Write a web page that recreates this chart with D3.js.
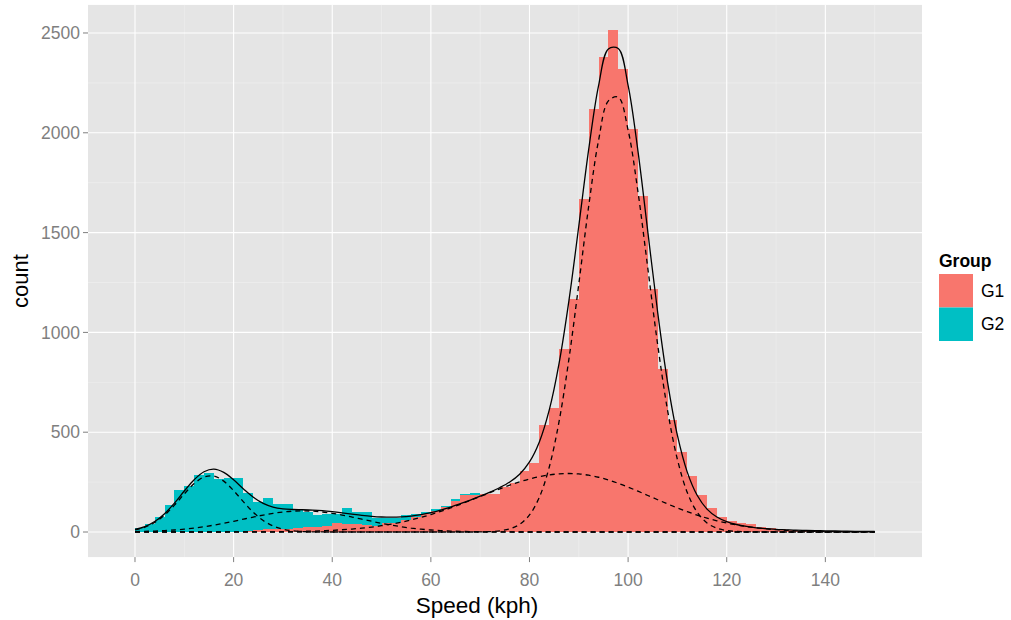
<!DOCTYPE html>
<html><head><meta charset="utf-8">
<script src="https://cdn.jsdelivr.net/npm/d3@7"></script>
<style>
html,body{margin:0;padding:0;background:#fff;}
svg{display:block;font-family:"Liberation Sans",Arial,Helvetica,sans-serif;}
</style></head>
<body>
<svg id="chart" width="1011" height="620"></svg>
<script>
// ---- data ----
// histogram bins: left edges (width 2 kph)
const binStarts = [0,2,4,6,8,10,12,14,16,18,20,22,24,26,28,30,32,34,36,38,40,42,44,46,48,50,52,54,56,58,60,62,64,66,68,70,72,74,76,78,80,82,84,86,88,90,92,94,96,98,100,102,104,106,108,110,112,114,116,118,120,122,124,126,128,130,132,134,136,138,140,142,144,146,148];
const binWidth = 2;
const countG1 = [0,0,0,0,0,0,0,0,0,0,2,4,8,14,15,17,20,25,27,32,43,40,38,35,32,43,43,60,77,88,105,127,155,185,185,189,190,227,244,305,345,536,623,917,1167,1668,2117,2381,2515,2320,2019,1685,1217,816,561,402,280,185,122,77,55,43,40,27,18,13,8,7,6,5,4,3,2,2,1];
const countG2 = [22,40,77,135,212,232,284,294,268,270,268,190,142,156,124,122,95,75,58,56,45,82,60,63,36,29,29,25,13,14,10,3,12,5,9,2,0,0,0,0,0,0,0,0,0,0,0,0,0,0,0,0,0,0,0,0,0,0,0,0,0,0,0,0,0,0,0,0,0,0,0,0,0,0,0];
const groups = ["G1","G2"];
const groupColors = ["#F8766D","#00BFC4"];

// fitted curves, sampled every 2 kph from 0 to 150
const curveX = [0,2,4,6,8,10,12,14,16,18,20,22,24,26,28,30,32,34,36,38,40,42,44,46,48,50,52,54,56,58,60,62,64,66,68,70,72,74,76,78,80,82,84,86,88,90,92,94,96,98,100,102,104,106,108,110,112,114,116,118,120,122,124,126,128,130,132,134,136,138,140,142,144,146,148,150];
const fitTotal = [12.8,27.2,52.6,91.9,144.6,205.2,262.1,301.9,314.5,298.4,261.4,215.8,174.0,143.2,124.6,115.9,112.7,111.5,109.7,106.7,101.9,96.1,89.7,83.6,78.5,75.2,74.1,75.6,80.0,87.4,97.4,110.2,125.1,141.8,159.9,179.4,200.0,222.9,250.6,289.4,350.9,451.2,610.2,845,1159.6,1532.9,1915.3,2235.1,2420.1,2422.4,2238.1,1908.3,1504,1099.5,750.5,483.7,300,183.9,114.8,75.1,52,37.6,27.9,20.9,17,13,11,9,8,7,6,5,4,3.5,3,3];
const comp1 = [10.9,24.2,47.9,84.9,134.5,190.9,242.4,275.5,280.1,254.8,207.5,151.2,98.6,57.5,30.0,14.0,5.9,2.2,0.7,0.2,0,0,0,0,0,0,0,0,0,0,0,0,0,0,0,0,0,0,0,0,0,0,0,0,0,0,0,0,0,0,0,0,0,0,0,0,0,0,0,0,0,0,0,0,0,0,0,0,0,0,0,0,0,0,0,0];
const comp2 = [1.9,3.0,4.7,7.0,10.1,14.3,19.7,26.4,34.4,43.6,53.7,64.3,74.9,84.9,93.5,100.3,104.5,106,104.5,100.3,93.5,84.9,74.9,64.3,53.7,43.6,34.4,26.4,19.7,14.3,10.1,7.0,4.7,3.0,1.9,1.1,0.7,0.4,0.2,0,0,0,0,0,0,0,0,0,0,0,0,0,0,0,0,0,0,0,0,0,0,0,0,0,0,0,0,0,0,0,0,0,0,0,0,0];
const comp3 = [0,0,0,0,0,0,0,0,0,0.1,0.2,0.3,0.5,0.8,1.1,1.6,2.3,3.3,4.5,6.2,8.4,11.2,14.8,19.3,24.8,31.6,39.7,49.2,60.3,73.1,87.3,103.2,120.4,138.8,158.0,177.7,197.4,216.5,234.6,251,265.5,277.2,285.9,291.2,293,290.9,284.5,274.3,260.5,243.8,224.9,204.4,183,161.6,140.6,120.4,101.7,84.7,69.4,56.1,44.7,35.1,27.1,20.7,15.5,11.5,8.4,6.0,4.3,3.0,2.1,1.4,1.0,0.6,0.4,0.3];
const comp4 = [0,0,0,0,0,0,0,0,0,0,0,0,0,0,0,0,0,0,0,0,0,0,0,0,0,0,0,0,0,0,0,0,0,0,0,0.6,1.9,6.0,15.8,38.4,85.4,174,324.3,553.8,866.6,1242,1630.8,1960.8,2159.6,2178.6,2013.2,1703.9,1321,937.9,609.9,363.3,198.3,99.2,45.4,19.0,7.3,2.5,0.8,0.2,0,0,0,0,0,0,0,0,0,0,0,0];

const xTicks = [0,20,40,60,80,100,120,140];
const yTicks = [0,500,1000,1500,2000,2500];
const xMinor = [10,30,50,70,90,110,130,150];
const yMinor = [250,750,1250,1750,2250];

// ---- layout ----
const svg = d3.select("#chart");
const P = {l:88, r:922, t:4.9, b:557.1};
const x = d3.scaleLinear().domain([-9.53,159.6]).range([P.l,P.r]);
const y = d3.scaleLinear().domain([-125.75,2640.75]).range([P.b,P.t]);

svg.append("rect").attr("x",P.l).attr("y",P.t).attr("width",P.r-P.l).attr("height",P.b-P.t).attr("fill","#E5E5E5");

const grid = svg.append("g");
grid.selectAll(".xm").data(xMinor).join("line").attr("x1",d=>x(d)).attr("x2",d=>x(d)).attr("y1",P.t).attr("y2",P.b).attr("stroke","#F2F2F2").attr("stroke-width",0.55);
grid.selectAll(".ym").data(yMinor).join("line").attr("y1",d=>y(d)).attr("y2",d=>y(d)).attr("x1",P.l).attr("x2",P.r).attr("stroke","#F2F2F2").attr("stroke-width",0.55);
grid.selectAll(".xM").data(xTicks).join("line").attr("x1",d=>x(d)).attr("x2",d=>x(d)).attr("y1",P.t).attr("y2",P.b).attr("stroke","#FFFFFF").attr("stroke-width",1.1);
grid.selectAll(".yM").data(yTicks).join("line").attr("y1",d=>y(d)).attr("y2",d=>y(d)).attr("x1",P.l).attr("x2",P.r).attr("stroke","#FFFFFF").attr("stroke-width",1.1);

// stacked histogram (G1 at bottom, G2 on top)
const rows = binStarts.map((s,i)=>({start:s, G1:countG1[i], G2:countG2[i]}));
const stack = d3.stack().keys(groups)(rows);
const bars = svg.append("g");
stack.forEach((layer,gi)=>{
  bars.selectAll(".b"+gi).data(layer.filter(d=>d[1]-d[0]>0)).join("rect")
    .attr("x",d=>x(d.data.start))
    .attr("width",d=>x(d.data.start+binWidth)-x(d.data.start))
    .attr("y",d=>y(d[1]))
    .attr("height",d=>y(d[0])-y(d[1]))
    .attr("fill",groupColors[gi])
    .attr("shape-rendering","crispEdges");
});

// fitted curves
const line = d3.line().x((d,i)=>x(curveX[i])).y(d=>y(d)).curve(d3.curveCatmullRom.alpha(0.5));
const lines = svg.append("g").attr("fill","none").attr("stroke","#000");
[comp1,comp2,comp3,comp4].forEach(c=>{
  lines.append("path").attr("d",line(c)).attr("stroke-width",1.3).attr("stroke-dasharray","5,4");
});
lines.append("path").attr("d",line(fitTotal)).attr("stroke-width",1.3);

// axes
const tickCol = "#7F7F7F";
const ax = svg.append("g");
ax.selectAll(".xt").data(xTicks).join("line").attr("x1",d=>x(d)).attr("x2",d=>x(d)).attr("y1",P.b).attr("y2",P.b+5).attr("stroke",tickCol).attr("stroke-width",1);
ax.selectAll(".xl").data(xTicks).join("text").attr("x",d=>x(d)).attr("y",P.b+29).attr("text-anchor","middle").attr("font-size",17.5).attr("fill",tickCol).text(d=>d);
ax.selectAll(".yt").data(yTicks).join("line").attr("y1",d=>y(d)).attr("y2",d=>y(d)).attr("x1",P.l-5).attr("x2",P.l).attr("stroke",tickCol).attr("stroke-width",1);
ax.selectAll(".yl").data(yTicks).join("text").attr("x",P.l-8).attr("y",d=>y(d)).attr("dy","0.35em").attr("text-anchor","end").attr("font-size",17.5).attr("fill",tickCol).text(d=>d);

svg.append("text").attr("x",477).attr("y",613).attr("text-anchor","middle").attr("font-size",22.5).attr("fill","#000").text("Speed (kph)");
svg.append("text").attr("transform",`translate(28,${(P.t+P.b)/2}) rotate(-90)`).attr("text-anchor","middle").attr("font-size",22).attr("fill","#000").text("count");

// legend
const lg = svg.append("g");
lg.append("text").attr("x",939).attr("y",267).attr("font-size",17.5).attr("font-weight","bold").attr("fill","#000").text("Group");
groups.forEach((g,i)=>{
  lg.append("rect").attr("x",939).attr("y",274+i*33.5).attr("width",34).attr("height",33.5).attr("fill",groupColors[i]);
  lg.append("text").attr("x",981).attr("y",274+i*33.5+16.75).attr("dy","0.35em").attr("font-size",17.5).attr("fill","#000").text(g);
});
</script>
</body></html>
